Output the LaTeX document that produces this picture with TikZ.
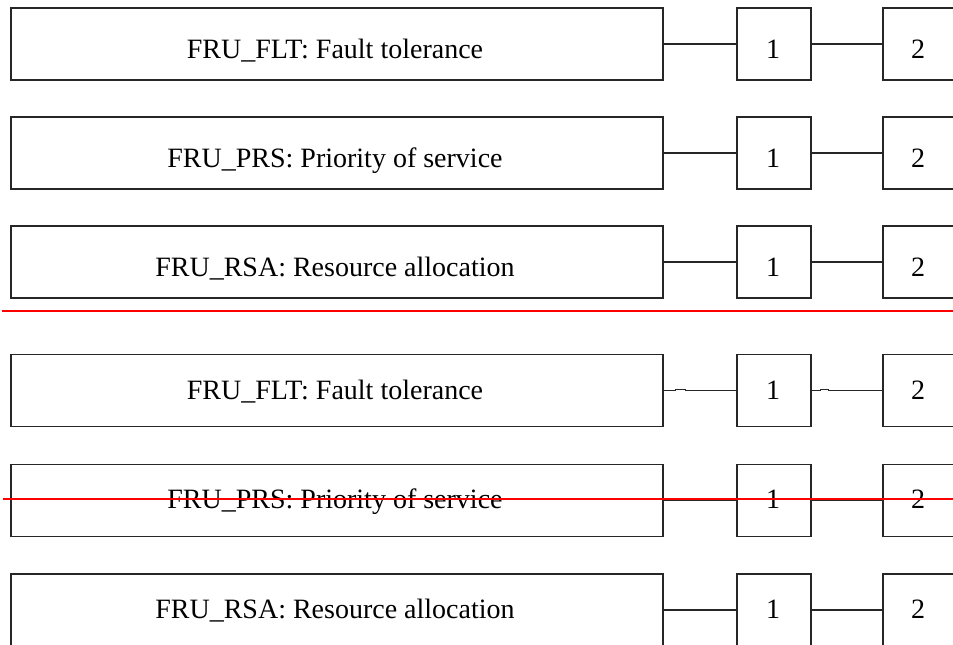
\documentclass[tikz,border=0pt]{standalone}
\usepackage{fontspec}
\setmainfont{Liberation Serif}
\begin{document}
\begin{tikzpicture}[x=1pt,y=-1pt,
  box/.style={draw=black!85,line width=1.2pt,rectangle,inner sep=0pt,minimum height=72pt},
  wide/.style={box,minimum width=652pt},
  sq/.style={box,minimum width=74pt},
  lbl/.style={anchor=base,inner sep=0pt,font=\fontsize{28}{31}\selectfont},
  conn/.style={draw=black!85,line width=1.2pt},
  redline/.style={draw=red,line width=1.3pt}]
\useasboundingbox (0,0) rectangle (953,645);
\foreach \i/\c/\o/\t in {
  1/44/14/{FRU\_FLT: Fault tolerance},
  2/153/14/{FRU\_PRS: Priority of service},
  3/262/14/{FRU\_RSA: Resource allocation},
  4/390.5/9/{FRU\_FLT: Fault tolerance},
  5/500.5/7.5/{FRU\_PRS: Priority of service},
  6/610/8.5/{FRU\_RSA: Resource allocation}}{
  \node[wide] (L\i) at (337,\c) {};
  \node[sq] (A\i) at (774,\c) {};
  \node[sq] (B\i) at (920,\c) {};
  \node[lbl] (T\i) at (335,\c+\o) {\t};
  \node[lbl] (N\i) at (773,\c+\o) {1};
  \node[lbl] (M\i) at (918,\c+\o) {2};
}
% connectors
\foreach \i in {1,2,3,5,6}{
  \draw[conn] (L\i.east) -- (A\i.west);
  \draw[conn] (A\i.east) -- (B\i.west);
}
% row 4 connectors with small bumps
\draw[conn] (L4.east) -- ++(12,0) -- ++(0,-1.2) -- ++(10,0) -- ++(0,1.2) -- (A4.west);
\draw[conn] (A4.east) -- ++(9,0) -- ++(0,-1.2) -- ++(8,0) -- ++(0,1.2) -- (B4.west);
% red lines
\coordinate (r1s) at (2,311);
\coordinate (r1e) at (953,311);
\coordinate (r2s) at (3,499);
\coordinate (r2e) at (953,499);
\draw[redline] (r1s) -- (r1e);
\draw[redline] (r2s) -- (r2e);
\end{tikzpicture}
\end{document}
